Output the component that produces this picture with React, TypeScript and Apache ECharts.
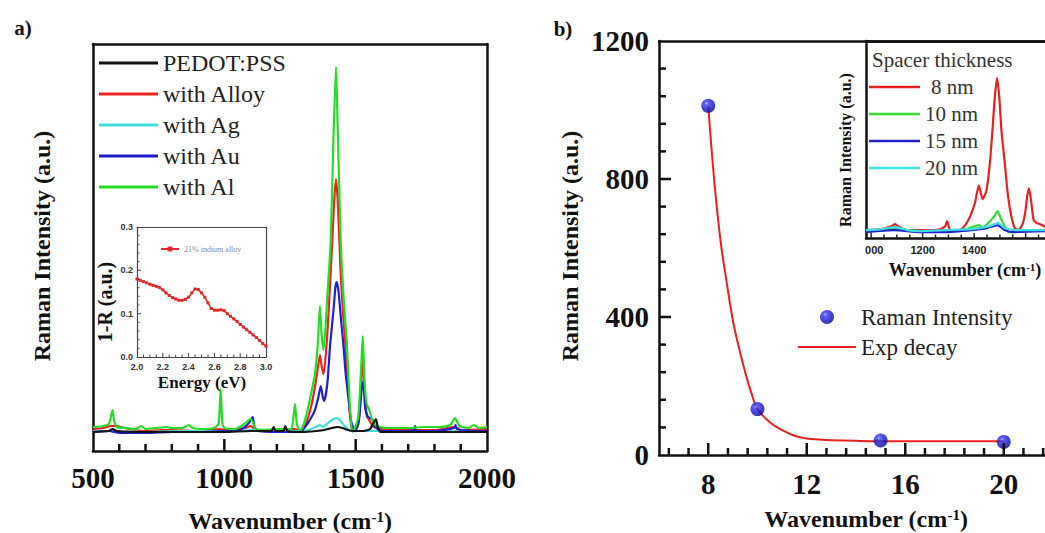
import React, { useEffect, useRef } from "react";
import * as echarts from "echarts";

const SERIF = '"Liberation Serif", "Times New Roman", serif';
const SANS = '"Liberation Sans", Arial, sans-serif';

// ---------- Panel a: Raman spectra [wavenumber, intensity (a.u.)] ----------
const pedotPss: [number, number][] = [
  [500, 0], [560, 1], [575, 3], [590, 1], [700, 0], [800, 0], [900, 0], [1000, 0], [1100, 1], [1180, 1],
  [1188, 5], [1195, 1], [1225, 1], [1232, 6], [1240, 1], [1300, 0], [1350, 1], [1380, 2], [1410, 4], [1430, 5],
  [1450, 4], [1470, 2], [1490, 1], [1530, 1], [1555, 3], [1568, 9], [1577, 13], [1584, 5], [1595, 0], [1700, 0],
  [1800, 0], [1900, 0], [2000, 0],
];
const withAlloy: [number, number][] = [
  [500, 3], [540, 4], [570, 6], [590, 6], [620, 4], [660, 2], [700, 1], [760, 2], [800, 2], [900, 1], [980, 3],
  [1000, 2], [1080, 4], [1100, 6], [1120, 2], [1200, 1], [1265, 3], [1290, 1], [1310, 8], [1330, 25], [1345, 45],
  [1355, 62], [1364, 77], [1371, 65], [1378, 58], [1390, 90], [1400, 135], [1411, 191], [1418, 230], [1425, 253],
  [1432, 230], [1443, 158], [1452, 118], [1460, 91], [1468, 55], [1476, 25], [1485, 3], [1495, 3], [1510, 10],
  [1520, 45], [1527, 76], [1534, 40], [1542, 18], [1555, 10], [1570, 5], [1600, 3], [1700, 2], [1800, 2],
  [1880, 5], [1900, 2], [2000, 3],
];
const withAg: [number, number][] = [
  [500, 1], [600, 1], [700, 0], [800, 1], [900, 1], [1000, 1], [1100, 2], [1200, 1], [1300, 1], [1330, 3],
  [1355, 6], [1364, 7], [1375, 5], [1390, 8], [1410, 12], [1425, 14], [1440, 12], [1455, 7], [1470, 3],
  [1485, 1], [1500, 1], [1600, 1], [1800, 1], [2000, 1],
];
const withAu: [number, number][] = [
  [500, 0], [560, 1], [600, -1], [700, -1], [800, 0], [900, 0], [1000, 1], [1060, 2], [1090, 8], [1100, 12],
  [1108, 15], [1115, 5], [1130, 1], [1200, 0], [1290, 0], [1310, 6], [1330, 14], [1345, 22], [1358, 35],
  [1367, 46], [1374, 36], [1380, 31], [1392, 48], [1403, 88], [1415, 120], [1423, 145], [1428, 150],
  [1435, 140], [1445, 110], [1453, 88], [1462, 58], [1472, 35], [1482, 12], [1491, 4], [1500, 2], [1512, 10],
  [1522, 40], [1529, 51], [1536, 25], [1545, 15], [1555, 14], [1565, 12], [1575, 5], [1600, 1], [1700, 1],
  [1722, 2], [1726, 6], [1730, 1], [1800, 1], [1875, 4], [1880, 7], [1885, 3], [1950, 1], [2000, 1],
];
const withAl: [number, number][] = [
  [500, 5], [540, 6], [560, 8], [568, 15], [574, 22], [580, 12], [590, 5], [620, 4], [660, 3], [685, 6],
  [700, 3], [740, 4], [780, 5], [800, 4], [840, 4], [865, 7], [880, 4], [920, 3], [960, 4], [978, 8],
  [986, 43], [992, 10], [1000, 4], [1040, 3], [1070, 7], [1090, 11], [1100, 13], [1110, 9], [1118, 3],
  [1150, 2], [1190, 3], [1230, 3], [1255, 3], [1263, 15], [1269, 28], [1276, 8], [1288, 1], [1300, 6],
  [1315, 20], [1330, 38], [1345, 58], [1355, 85], [1364, 126], [1371, 95], [1378, 82], [1392, 135],
  [1405, 191], [1415, 291], [1425, 365], [1432, 300], [1443, 191], [1455, 130], [1466, 91], [1478, 25],
  [1487, 0], [1497, 4], [1510, 15], [1520, 60], [1527, 96], [1534, 50], [1542, 28], [1552, 22], [1565, 10],
  [1580, 6], [1620, 4], [1700, 4], [1760, 5], [1820, 5], [1860, 7], [1878, 14], [1895, 6], [1930, 4],
  [1950, 7], [1970, 4], [2000, 5],
];

// ---------- Panel a inset: 1-R vs energy ----------
const energyEv = [
  2.0, 2.025, 2.05, 2.075, 2.1, 2.125, 2.15, 2.175, 2.2, 2.225, 2.25, 2.275, 2.3, 2.325, 2.35, 2.375, 2.4,
  2.425, 2.45, 2.475, 2.5, 2.525, 2.55, 2.575, 2.6, 2.625, 2.65, 2.675, 2.7, 2.725, 2.75, 2.775, 2.8, 2.825,
  2.85, 2.875, 2.9, 2.925, 2.95, 2.975, 3.0,
];
const oneMinusR = [
  0.18, 0.177, 0.174, 0.171, 0.168, 0.165, 0.163, 0.16, 0.155, 0.148, 0.142, 0.137, 0.134, 0.131, 0.131,
  0.133, 0.138, 0.148, 0.157, 0.156, 0.148, 0.138, 0.125, 0.112, 0.108, 0.108, 0.109, 0.107, 0.1, 0.094,
  0.088, 0.082, 0.075, 0.069, 0.063, 0.057, 0.051, 0.045, 0.038, 0.031, 0.025,
];

// ---------- Panel b: Raman intensity vs spacer ----------
const spacerX = [8, 10, 15, 20];
const ramanIntensity = [1012, 133, 42, 38];
const fitX = [8, 8.25, 8.5, 8.75, 9, 9.25, 9.5, 9.75, 10, 10.5, 11, 11.5, 12, 12.5, 13, 14, 15, 16, 18, 20];
const fitY = [1010, 790, 620, 500, 390, 310, 240, 180, 133, 95, 72, 56, 48, 45, 43, 41, 40, 40, 40, 40];

// ---------- Panel b inset spectra ----------
const nm8: [number, number][] = [
  [980, 8], [1040, 9], [1080, 12], [1093, 14], [1108, 11], [1140, 8], [1190, 8], [1240, 8], [1270, 9],
  [1288, 12], [1295, 17], [1303, 10], [1312, 7], [1345, 8], [1368, 14], [1383, 21], [1403, 35], [1418, 53],
  [1426, 45], [1433, 39], [1448, 48], [1461, 75], [1471, 108], [1480, 141], [1489, 161], [1498, 140],
  [1506, 108], [1519, 75], [1532, 41], [1545, 21], [1558, 10], [1571, 8], [1588, 14], [1598, 25], [1606, 42],
  [1613, 50], [1621, 38], [1631, 18], [1643, 15], [1655, 14], [1680, 11], [1700, 10],
];
const nm10: [number, number][] = [
  [980, 7], [1090, 9], [1190, 7], [1290, 7], [1370, 9], [1418, 13], [1433, 11], [1458, 16], [1478, 22],
  [1491, 27], [1503, 20], [1518, 12], [1533, 6], [1570, 6], [1590, 8], [1630, 8], [1700, 8],
];
const nm15: [number, number][] = [
  [980, 6], [1090, 8], [1190, 6], [1290, 6], [1390, 8], [1450, 10], [1491, 13], [1518, 8], [1548, 6], [1700, 7],
];
const nm20: [number, number][] = [
  [980, 8], [1040, 9], [1093, 11], [1140, 8], [1190, 7], [1290, 8], [1390, 9], [1460, 12], [1493, 15],
  [1518, 10], [1560, 8], [1700, 8],
];

const majorB = [8, 12, 16, 20];
const insetBLabels = [1000, 1200, 1400];

function range(start: number, end: number, step: number): number[] {
  const out: number[] = [];
  const n = Math.round((end - start) / step);
  for (let i = 0; i <= n; i++) out.push(Math.round((start + i * step) * 1000) / 1000);
  return out;
}

export default function App() {
  const ref = useRef<HTMLDivElement>(null);
  useEffect(() => {
    if (!ref.current) return;
    const chart = echarts.init(ref.current, undefined, { renderer: "svg" });

    const plain = (v: number) => String(v);
    const bigLabel = (margin: number) => ({
      fontFamily: SERIF, fontWeight: "bold" as const, fontSize: 29, color: "#111", margin, formatter: plain,
    });
    const frameLine = (color: string, width: number) => ({ show: true, onZero: false, lineStyle: { color, width } });
    const noTicks = { axisTick: { show: false }, minorTick: { show: false }, splitLine: { show: false } };
    const frameOnly = (gridIndex: number, position: string, min: number, max: number, color: string, width: number) => ({
      gridIndex, position, type: "value", min, max,
      axisLine: frameLine(color, width), axisLabel: { show: false }, ...noTicks,
    });
    const sphere = {
      type: "radial", x: 0.38, y: 0.32, r: 0.7,
      colorStops: [
        { offset: 0, color: "#a4aaff" }, { offset: 0.18, color: "#3b3bf0" }, { offset: 0.6, color: "#1414cc" },
        { offset: 1, color: "#06068a" },
      ],
    };
    const supRich = (size: number) => ({
      s: { fontFamily: SERIF, fontWeight: "bold", fontSize: size, fill: "#111", verticalAlign: "top" },
    });
    const titleText = (text: string, x: number, y: number, size: number, rotate = false, rich?: any) => ({
      type: "text", x, y, rotation: rotate ? Math.PI / 2 : 0, z: 60,
      style: {
        text, fontFamily: SERIF, fontWeight: "bold", fontSize: size, fill: "#111",
        align: "center", verticalAlign: "middle", textAlign: "center", textVerticalAlign: "middle",
        rich,
      },
    });
    const lineIcon = "path://M0,0L60,0L60,3L0,3Z";

    const baseGraphics: any[] = [
      titleText("a)", 23, 28, 21),
      titleText("b)", 563, 29, 21),
      titleText("Raman Intensity (a.u.)", 42, 246, 24, true),
      titleText("Wavenumber (cm{s|-1})", 290, 521, 24, false, supRich(15)),
      titleText("Raman Intensity (a.u.)", 570, 246, 24, true),
      titleText("Wavenumber (cm{s|-1})", 866, 519, 24, false, supRich(15)),
      titleText("1-R (a.u.)", 105, 302, 20, true),
      titleText("Energy (eV)", 202, 382, 17),
      titleText("Raman Intensity (a.u.)", 845, 150, 16, true),
      titleText("Wavenumber (cm{s|-1})", 965, 270, 18, false, supRich(11)),
      {
        type: "text", x: 872, y: 60, z: 60,
        style: {
          text: "Spacer thickness", fontFamily: SERIF, fontSize: 21, fill: "#333",
          align: "left", verticalAlign: "middle", textAlign: "left", textVerticalAlign: "middle",
        },
      },
      { type: "rect", z: 50, shape: { x: 845, y: 243, width: 20, height: 16 }, style: { fill: "#fff" } },
    ];

    const option: any = {
      animation: false,
      backgroundColor: "#fff",
      grid: [
        { left: 93, top: 44, width: 394, height: 407, show: false, containLabel: false, outerBoundsMode: "none" },
        { left: 137, top: 227, width: 129, height: 130, show: true, borderWidth: 0, backgroundColor: "#fff", containLabel: false, outerBoundsMode: "none" },
        { left: 659, top: 41, width: 394, height: 414, show: false, containLabel: false, outerBoundsMode: "none" },
        { left: 866, top: 41, width: 185.4, height: 197, show: true, borderWidth: 0, backgroundColor: "#fff", containLabel: false, outerBoundsMode: "none" },
      ],
      xAxis: [
        {
          gridIndex: 0, position: "bottom", type: "value", min: 500, max: 2000, interval: 500,
          axisLine: frameLine("#111", 2.5), ...noTicks, axisLabel: bigLabel(12),
        },
        {
          gridIndex: 1, position: "bottom", type: "value", min: 2, max: 3, interval: 0.2,
          axisLine: frameLine("#444", 1.2), ...noTicks,
          axisLabel: { fontFamily: SANS, fontWeight: "bold", fontSize: 9, color: "#333", margin: 5, formatter: (v: number) => v.toFixed(1) },
        },
        {
          gridIndex: 2, position: "bottom", type: "value", min: 6, max: 22,
          axisLine: frameLine("#111", 2.5), ...noTicks,
          axisLabel: { ...bigLabel(14), customValues: majorB },
        },
        {
          gridIndex: 3, position: "bottom", type: "value", min: 980, max: 1700,
          axisLine: frameLine("#111", 2.5), ...noTicks,
          axisLabel: { fontFamily: SANS, fontWeight: "bold", fontSize: 11, color: "#222", margin: 6, customValues: insetBLabels, formatter: plain },
        },
        frameOnly(0, "top", 500, 2000, "#111", 2.5),
        frameOnly(1, "top", 2, 3, "#444", 1.2),
        frameOnly(2, "top", 6, 22, "#111", 2.5),
        frameOnly(3, "top", 980, 1700, "#111", 2.5),
      ],
      yAxis: [
        {
          gridIndex: 0, position: "left", type: "value", min: -19, max: 388,
          axisLine: frameLine("#111", 2.5), axisLabel: { show: false }, ...noTicks,
        },
        {
          gridIndex: 1, position: "left", type: "value", min: 0, max: 0.3, interval: 0.1,
          axisLine: frameLine("#444", 1.2), ...noTicks,
          axisLabel: { fontFamily: SANS, fontWeight: "bold", fontSize: 9, color: "#333", margin: 4, formatter: (v: number) => v.toFixed(1) },
        },
        {
          gridIndex: 2, position: "left", type: "value", min: 0, max: 1200, interval: 400,
          axisLine: frameLine("#111", 2.5), ...noTicks, axisLabel: bigLabel(10),
        },
        {
          gridIndex: 3, position: "left", type: "value", min: 0, max: 198,
          axisLine: frameLine("#111", 2.5), axisLabel: { show: false }, ...noTicks,
        },
        frameOnly(0, "right", -19, 388, "#111", 2.5),
        frameOnly(1, "right", 0, 0.3, "#444", 1.2),
        frameOnly(2, "right", 0, 1200, "#111", 2.5),
        frameOnly(3, "right", 0, 198, "#111", 2.5),
      ],
      legend: [
        {
          data: ["PEDOT:PSS", "with Alloy", "with Ag", "with Au", "with Al"].map((name) => ({ name, icon: lineIcon })),
          orient: "vertical", left: 99, top: 49, padding: 0, itemGap: 3, itemWidth: 59, itemHeight: 14,
          selectedMode: false,
          textStyle: { fontFamily: SERIF, fontSize: 24, color: "#222", lineHeight: 28 },
        },
        {
          data: ["21% indium alloy"],
          orient: "vertical", left: 160, top: 245, padding: 0, itemWidth: 18, itemHeight: 6, selectedMode: false,
          textStyle: { fontFamily: SERIF, fontSize: 8, color: "#8a8a8a" },
        },
        {
          data: [{ name: "Raman Intensity", icon: "circle" }, { name: "Exp decay", icon: "path://M0,0L58,0L58,2L0,2Z" }],
          orient: "vertical", left: 798, top: 304, padding: 0, itemGap: 4, itemWidth: 58, itemHeight: 14,
          selectedMode: false,
          textStyle: { fontFamily: SERIF, fontSize: 23, color: "#222", lineHeight: 26 },
        },
        {
          data: [
            { name: "8 nm", icon: lineIcon, textStyle: { padding: [0, 0, 0, 6] } },
            { name: "10 nm", icon: lineIcon }, { name: "15 nm", icon: lineIcon }, { name: "20 nm", icon: lineIcon },
          ],
          orient: "vertical", left: 869, top: 75, padding: 0, itemGap: 3, itemWidth: 51, itemHeight: 12,
          selectedMode: false,
          textStyle: { fontFamily: SERIF, fontSize: 21, color: "#333", lineHeight: 24 },
        },
      ],
      series: [
        { name: "with Alloy", type: "line", xAxisIndex: 0, yAxisIndex: 0, data: withAlloy, symbol: "none", smooth: 0.2, color: "#e8251f", lineStyle: { width: 2.2 } },
        { name: "with Ag", type: "line", xAxisIndex: 0, yAxisIndex: 0, data: withAg, symbol: "none", smooth: 0.2, color: "#3fdede", lineStyle: { width: 2.2 } },
        { name: "with Au", type: "line", xAxisIndex: 0, yAxisIndex: 0, data: withAu, symbol: "none", smooth: 0.2, color: "#1d1dd2", lineStyle: { width: 2.2 } },
        { name: "with Al", type: "line", xAxisIndex: 0, yAxisIndex: 0, data: withAl, symbol: "none", smooth: 0.2, color: "#25dd25", lineStyle: { width: 2.2 } },
        { name: "PEDOT:PSS", type: "line", xAxisIndex: 0, yAxisIndex: 0, data: pedotPss, symbol: "none", smooth: 0.2, color: "#111", lineStyle: { width: 2.2 } },
        {
          name: "21% indium alloy", type: "line", xAxisIndex: 1, yAxisIndex: 1,
          data: energyEv.map((e, i) => [e, oneMinusR[i]]), symbol: "rect", symbolSize: 3, showSymbol: true,
          color: "#e02828", lineStyle: { width: 1.5 }, z: 5,
        },
        {
          name: "Exp decay", type: "line", xAxisIndex: 2, yAxisIndex: 2, data: fitX.map((x, i) => [x, fitY[i]]),
          symbol: "none", smooth: 0.4, color: "#e8201c", lineStyle: { width: 2 },
        },
        {
          name: "Raman Intensity", type: "scatter", xAxisIndex: 2, yAxisIndex: 2,
          data: spacerX.map((x, i) => [x, ramanIntensity[i]]), symbol: "circle", symbolSize: 14,
          itemStyle: { color: sphere }, z: 4,
        },
        { name: "8 nm", type: "line", xAxisIndex: 3, yAxisIndex: 3, data: nm8, symbol: "none", smooth: 0.2, color: "#e82020", lineStyle: { width: 2.2 } },
        { name: "10 nm", type: "line", xAxisIndex: 3, yAxisIndex: 3, data: nm10, symbol: "none", smooth: 0.2, color: "#33dd33", lineStyle: { width: 2.2 } },
        { name: "15 nm", type: "line", xAxisIndex: 3, yAxisIndex: 3, data: nm15, symbol: "none", smooth: 0.2, color: "#2020cc", lineStyle: { width: 2.2 } },
        { name: "20 nm", type: "line", xAxisIndex: 3, yAxisIndex: 3, data: nm20, symbol: "none", smooth: 0.2, color: "#3ddede", lineStyle: { width: 2.2 } },
      ],
      graphic: baseGraphics,
    };
    chart.setOption(option);

    // Tick marks: positions come from the chart's own axes through convertToPixel.
    const isMult = (v: number, m: number) => Math.abs(v / m - Math.round(v / m)) < 1e-6;
    const tickLines: any[] = [];
    const addTick = (idx: number, vals: number[], base: number, vertical: boolean, major: number,
      lenMaj: number, lenMin: number, color: string, w: number) => {
      vals.forEach((v) => {
        const pt = vertical ? [v, base] : [base, v];
        const p = chart.convertToPixel({ xAxisIndex: idx, yAxisIndex: idx } as any, pt) as number[];
        if (!p || !isFinite(p[0]) || !isFinite(p[1])) return;
        const len = isMult(v, major) ? lenMaj : lenMin;
        tickLines.push({
          type: "line", z: 55, silent: true,
          shape: vertical
            ? { x1: p[0], y1: p[1], x2: p[0], y2: p[1] - len }
            : { x1: p[0], y1: p[1], x2: p[0] + len, y2: p[1] },
          style: { stroke: color, lineWidth: w, lineCap: "butt" },
        });
      });
    };
    addTick(0, range(600, 1900, 100), -19, true, 500, 12, 7, "#111", 2.5);
    addTick(1, range(2.05, 2.95, 0.05), 0, true, 0.2, 4, 2.5, "#444", 1);
    addTick(1, range(0.02, 0.28, 0.02), 2, false, 0.1, 4, 2.5, "#444", 1);
    addTick(2, range(6.4, 21.6, 0.8), 0, true, 4, 12, 7, "#111", 2.5);
    addTick(2, range(80, 1120, 80), 6, false, 400, 12, 7, "#111", 2.5);
    addTick(3, range(1000, 1700, 50), 0, true, 200, 5, 3.5, "#222", 1.5);

    chart.setOption({ graphic: [...baseGraphics, ...tickLines] }, { replaceMerge: ["graphic"] } as any);
    return () => chart.dispose();
  }, []);
  return (
    <div
      ref={ref}
      style={{ position: "fixed", left: 0, top: 0, width: 1045, height: 533, background: "#fff" }}
    />
  );
}
